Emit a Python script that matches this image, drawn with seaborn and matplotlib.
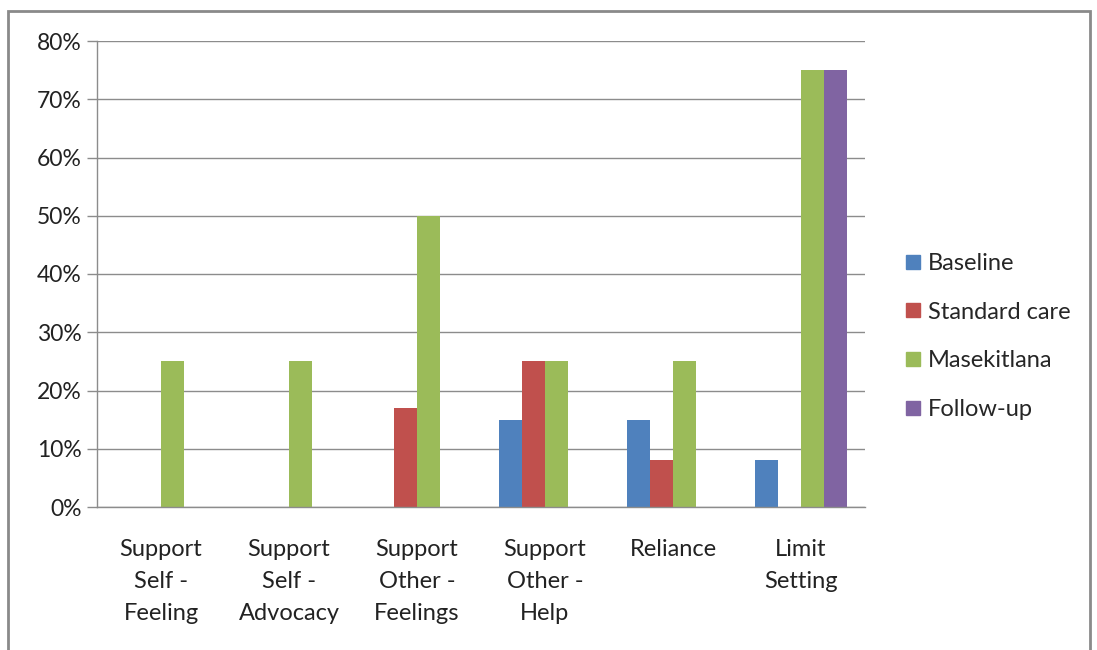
import matplotlib
matplotlib.use("Agg")
import matplotlib.pyplot as plt
from matplotlib.lines import Line2D
from matplotlib.patches import Rectangle
import seaborn as sns
import pandas as pd
import numpy as np

categories = ["Support\nSelf -\nFeeling", "Support\nSelf -\nAdvocacy", "Support\nOther -\nFeelings",
              "Support\nOther -\nHelp", "Reliance", "Limit\nSetting"]
series_names = ["Baseline", "Standard care", "Masekitlana", "Follow-up"]
baseline = [0, 0, 0, 15, 15, 8]
standard_care = [0, 0, 17, 25, 8, 0]
masekitlana = [25, 25, 50, 25, 25, 75]
follow_up = [0, 0, 0, 0, 0, 75]
colors = ["#4F81BD", "#C0504D", "#9BBB59", "#8064A2"]
yticks = [0, 10, 20, 30, 40, 50, 60, 70, 80]

sns.set_theme(style="white")
plt.rcParams['font.family'] = ['Lato', 'DejaVu Sans']

rows = []
for name, vals in zip(series_names, [baseline, standard_care, masekitlana, follow_up]):
    for c, v in zip(categories, vals):
        rows.append({"category": c, "series": name, "value": v})
df = pd.DataFrame(rows)

fig = plt.figure(figsize=(10.97, 6.5), dpi=100)
ax = fig.add_axes([97/1097, 1 - 507/650, 768/1097, 466/650])

sns.barplot(data=df, x="category", y="value", hue="series", order=categories,
            hue_order=series_names, palette=colors, width=0.72, saturation=1,
            ax=ax, legend=False, linewidth=0)

ax.set_ylim(0, 80)
ax.set_xlim(-0.5, len(categories) - 0.5)
ax.set_yticks(yticks)
ax.set_yticklabels([f"{t}%" for t in yticks], fontsize=16.5, color="#222222")
ax.yaxis.grid(True, color="#8c8c8c", linewidth=1)
ax.set_axisbelow(True)
ax.set_xlabel("")
ax.set_ylabel("")

ax.set_xticks(range(len(categories)))
ax.set_xticklabels(categories, fontsize=17, color="#222222", linespacing=1.66, va="top")
ax.tick_params(axis="x", which="major", length=0, pad=23)
ax.set_xticks(np.arange(-0.5, len(categories), 1.0), minor=True)
ax.tick_params(axis="x", which="minor", length=7, color="#8c8c8c", width=1, direction="out")
ax.tick_params(axis="y", length=7, color="#8c8c8c", width=1, direction="out", left=True, pad=4)

for s in ["top", "right"]:
    ax.spines[s].set_visible(False)
for s in ["left", "bottom"]:
    ax.spines[s].set_color("#8c8c8c")
    ax.spines[s].set_linewidth(1)

handles = [Line2D([0], [0], marker="s", linestyle="none", markersize=9.5,
                  markerfacecolor=c, markeredgecolor=c) for c in colors]
fig.legend(handles, series_names, loc="upper left", bbox_to_anchor=(904/1097, 1 - 253/650),
           frameon=False, fontsize=17, handlelength=0.8, handletextpad=0.2,
           labelspacing=1.17, borderaxespad=0, borderpad=0)

fig.patches.append(Rectangle((8/1097, -0.05), (1090-8)/1097, 1.05 - 11/650,
                             transform=fig.transFigure, fill=False,
                             edgecolor="#8a8a8a", linewidth=2))

fig.savefig("out.png", dpi=100)
